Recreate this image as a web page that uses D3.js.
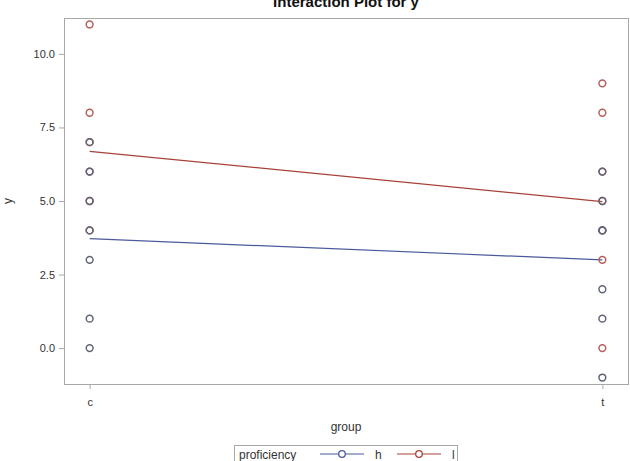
<!DOCTYPE html>
<html><head><meta charset="utf-8">
<script src="https://cdn.jsdelivr.net/npm/d3@7"></script>
<style>body{margin:0;background:#fff;} svg{display:block;font-family:"Liberation Sans",Arial,sans-serif;}</style>
</head><body>
<svg id="c" width="630" height="461"></svg>
<script>
const groups = ["c", "t"];
const series = ["h", "l"];
const hC = [7, 6, 5, 4, 3, 1, 0];
const lC = [11, 8, 7, 6, 5, 4];
const hT = [6, 5, 4, 4, 2, 1, -1];
const lT = [9, 8, 6, 5, 4, 3, 0];
// fitted means drawn as lines
const hMeans = [3.72, 3.0];
const lMeans = [6.69, 4.98];
const yTicks = [0, 2.5, 5, 7.5, 10];

const svg = d3.select("#c");
const L = 64, R = 628, T = 18, B = 384;
const x = d3.scalePoint().domain(groups).range([L, R]).padding(0.05);
const y = d3.scaleLinear().domain([-1.22, 11.22]).range([B, T]);

// title (cut off at top as in the reference)
svg.append("text").attr("x", (L + R) / 2).attr("y", 7).attr("text-anchor", "middle")
  .attr("font-weight", "bold").attr("font-size", 15).attr("fill", "#111").text("Interaction Plot for y");

// frame
svg.append("rect").attr("x", L + 0.5).attr("y", T + 0.5).attr("width", R - L).attr("height", B - T)
  .attr("fill", "none").attr("stroke", "#a8a8a8").attr("stroke-width", 1);

// y axis
const ya = svg.append("g").attr("transform", `translate(${L},0)`)
  .call(d3.axisLeft(y).tickValues(yTicks).tickFormat(d3.format(".1f")).tickSize(5).tickPadding(4));
ya.select(".domain").remove();
ya.selectAll("line").attr("stroke", "#a8a8a8");
ya.selectAll("text").attr("font-size", 11).attr("fill", "#333").attr("font-family", "Liberation Sans, Arial, sans-serif");

// x axis
const xa = svg.append("g").attr("transform", `translate(0,${B})`)
  .call(d3.axisBottom(x).tickSize(5).tickPadding(9));
xa.select(".domain").remove();
xa.selectAll("line").attr("stroke", "#a8a8a8");
xa.selectAll("text").attr("font-size", 11).attr("fill", "#333").attr("font-family", "Liberation Sans, Arial, sans-serif");

// axis labels
svg.append("text").attr("x", (L + R) / 2).attr("y", 431).attr("text-anchor", "middle")
  .attr("font-size", 12).attr("fill", "#333").text("group");
svg.append("text").attr("transform", `translate(12,${(T + B) / 2}) rotate(-90)`).attr("text-anchor", "middle")
  .attr("font-size", 12).attr("fill", "#333").text("y");

const colH = "#4a5a9c", colL = "#a84238";
const markH = "#606478", markL = "#b5605c";

// mean lines
const line = d3.line().x((d, i) => x(groups[i])).y(d => y(d));
svg.append("path").attr("d", line(lMeans)).attr("fill", "none").attr("stroke", colL).attr("stroke-width", 1.2);
svg.append("path").attr("d", line(hMeans)).attr("fill", "none").attr("stroke", colH).attr("stroke-width", 1.2);

// markers: l first, h on top
function pts(vals, g, col) {
  svg.append("g").selectAll("circle").data(vals).join("circle")
    .attr("cx", x(g)).attr("cy", d => y(d)).attr("r", 3.4)
    .attr("fill", "none").attr("stroke", col).attr("stroke-width", 1.5);
}
pts(lC, "c", markL); pts(lT, "t", markL);
pts(hC, "c", markH); pts(hT, "t", markH);

// legend
const lg = svg.append("g");
lg.append("rect").attr("x", 234.5).attr("y", 445.5).attr("width", 223).attr("height", 20)
  .attr("fill", "#fff").attr("stroke", "#a8a8a8");
lg.append("text").attr("x", 239).attr("y", 459).attr("font-size", 12).attr("fill", "#333").text("proficiency");
const items = [{k: series[0], c: colH, x0: 320}, {k: series[1], c: colL, x0: 397}];
items.forEach(it => {
  lg.append("line").attr("x1", it.x0).attr("x2", it.x0 + 44).attr("y1", 454).attr("y2", 454)
    .attr("stroke", it.c).attr("stroke-width", 1.2);
  lg.append("circle").attr("cx", it.x0 + 22).attr("cy", 454).attr("r", 3.3)
    .attr("fill", "#fff").attr("stroke", it.c).attr("stroke-width", 1.3);
  lg.append("text").attr("x", it.x0 + 55).attr("y", 459).attr("font-size", 12).attr("fill", "#333").text(it.k);
});
</script>
</body></html>
